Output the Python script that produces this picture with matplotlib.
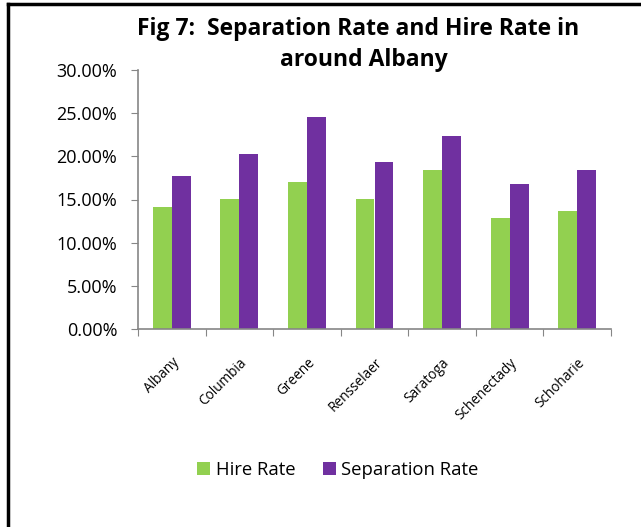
import matplotlib.pyplot as plt
from matplotlib.ticker import FuncFormatter
from matplotlib.lines import Line2D
import numpy as np

counties = ["Albany", "Columbia", "Greene", "Rensselaer", "Saratoga", "Schenectady", "Schoharie"]
hire_rate = [14.1, 15.1, 17.0, 15.1, 18.4, 12.9, 13.7]
separation_rate = [17.7, 20.3, 24.5, 19.4, 22.4, 16.8, 18.4]

plt.rcParams['font.family'] = ['Open Sans', 'DejaVu Sans']

fig = plt.figure(figsize=(6.41, 5.27), dpi=100)
ax = fig.add_axes([138/641, 1 - 329/527, (611 - 138)/641, (329 - 70)/527])

x = np.arange(len(counties))
w = 0.28
ax.bar(x - w/2, hire_rate, w, color='#92D050', label='Hire Rate')
ax.bar(x + w/2, separation_rate, w, color='#7030A0', label='Separation Rate')

ax.set_xlim(-0.5, len(counties) - 0.5)
ax.set_ylim(0, 30)
ax.set_yticks(np.arange(0, 31, 5))
ax.yaxis.set_major_formatter(FuncFormatter(lambda v, p: '%.2f%%' % v))
ax.set_xticks(np.arange(-0.5, len(counties)), minor=False)
ax.set_xticklabels([])
ax.set_xticks(x, minor=True)
ax.set_xticklabels(counties, minor=True, rotation=45, ha='right', rotation_mode='anchor', fontsize=9.8)
ax.tick_params(axis='x', which='minor', length=0, pad=19)
ax.tick_params(axis='x', which='major', length=5, color='#868686', direction='out')
ax.tick_params(axis='y', length=5, color='#868686', labelsize=13, pad=10)
for s in ['top', 'right']:
    ax.spines[s].set_visible(False)
for s in ['left', 'bottom']:
    ax.spines[s].set_color('#868686')
    ax.spines[s].set_linewidth(1.2)

fig.text(358/641, 1 - 29/527, "Fig 7:  Separation Rate and Hire Rate in",
         ha='center', va='center', fontsize=16.5, fontweight='bold')
fig.text(364/641, 1 - 60/527, "around Albany",
         ha='center', va='center', fontsize=16.5, fontweight='bold')

ax.legend(loc='center', bbox_to_anchor=(338/641, 1 - 470/527), bbox_transform=fig.transFigure,
          ncol=2, frameon=False, fontsize=13.3, handlelength=0.7, handleheight=0.7,
          handletextpad=0.3, columnspacing=1.5)

# frame lines like the cropped Excel chart border
fig.add_artist(Line2D([8/641, 8/641], [0, 1 - 4/527], color='black', lw=2.5, transform=fig.transFigure))
fig.add_artist(Line2D([8/641, 640/641], [1 - 4/527, 1 - 4/527], color='black', lw=2.5, transform=fig.transFigure))

fig.savefig('out.png', dpi=100)
